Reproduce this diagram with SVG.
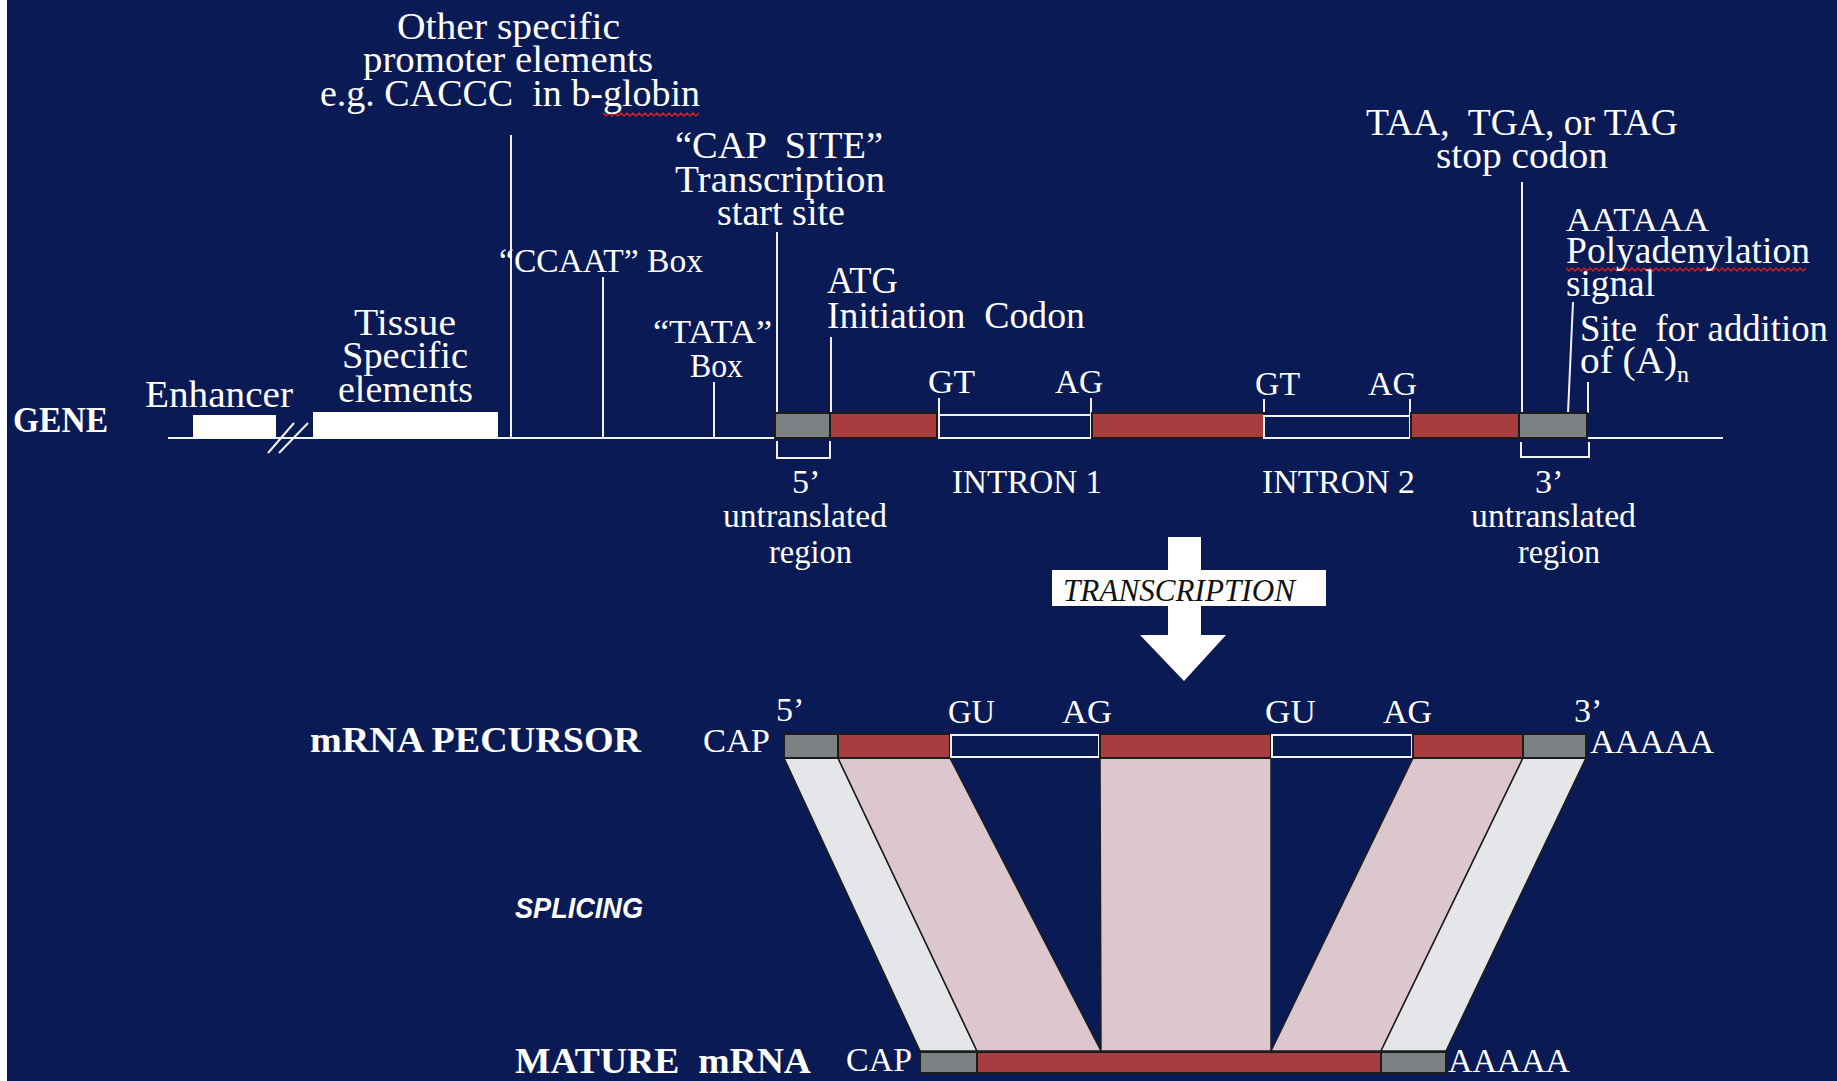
<svg xmlns="http://www.w3.org/2000/svg" width="1837" height="1081" viewBox="0 0 1837 1081">
<style>
.t{font-family:"Liberation Serif","Times New Roman",serif;fill:#fff;font-size:37px;white-space:pre}
.s{font-size:34px}
.b{font-weight:bold;font-size:36px}
.ln{stroke:#f2f2f2;stroke-width:2;fill:none}
.bar{stroke:#1c1c1c;stroke-width:2}
.red{fill:#a83d3f}
.gray{fill:#7c8184}
.pink{fill:#dbc7cd;stroke:#1c1c1c;stroke-width:1.5}
.light{fill:#e5e6e9;stroke:#1c1c1c;stroke-width:1.5}
.intr{fill:#0a1a55;stroke:#f2f2f2;stroke-width:2}
.sq{stroke:#d42020;stroke-width:1.5;fill:none}
</style>
<rect x="0" y="0" width="1837" height="1081" fill="#0a1a55"/>
<rect x="0" y="0" width="7" height="1081" fill="#ffffff"/>

<g id="connectors">
  <line class="ln" x1="168" y1="438" x2="776" y2="438"/>
  <line class="ln" x1="1587" y1="438" x2="1723" y2="438"/>
  <line class="ln" x1="268" y1="453" x2="294" y2="423"/>
  <line class="ln" x1="279" y1="453" x2="308" y2="423"/>
  <line class="ln" x1="511" y1="135" x2="511" y2="437"/>
  <line class="ln" x1="603" y1="277" x2="603" y2="437"/>
  <line class="ln" x1="714" y1="382" x2="714" y2="437"/>
  <line class="ln" x1="777" y1="232" x2="777" y2="413"/>
  <line class="ln" x1="831" y1="337" x2="831" y2="413"/>
  <line class="ln" x1="939" y1="398" x2="939" y2="415"/>
  <line class="ln" x1="1091" y1="398" x2="1091" y2="415"/>
  <line class="ln" x1="1264" y1="399" x2="1264" y2="416"/>
  <line class="ln" x1="1410" y1="399" x2="1410" y2="416"/>
  <line class="ln" x1="1522" y1="182" x2="1522" y2="413"/>
  <line class="ln" x1="1573" y1="302" x2="1568" y2="413"/>
  <line class="ln" x1="1588" y1="382" x2="1588" y2="413"/>
  <path class="ln" d="M777,441 V458 H830 V441"/>
  <path class="ln" d="M1521,442 V457 H1589 V442"/>
  <path class="sq" d="M603,113 l3,3 l3,-3 l3,3 l3,-3 l3,3 l3,-3 l3,3 l3,-3 l3,3 l3,-3 l3,3 l3,-3 l3,3 l3,-3 l3,3 l3,-3 l3,3 l3,-3 l3,3 l3,-3 l3,3 l3,-3 l3,3 l3,-3 l3,3 l3,-3 l3,3 l3,-3 l3,3 l3,-3 l3,3 l3,-3"/>
  <path class="sq" d="M1566,268 l3,3 l3,-3 l3,3 l3,-3 l3,3 l3,-3 l3,3 l3,-3 l3,3 l3,-3 l3,3 l3,-3 l3,3 l3,-3 l3,3 l3,-3 l3,3 l3,-3 l3,3 l3,-3 l3,3 l3,-3 l3,3 l3,-3 l3,3 l3,-3 l3,3 l3,-3 l3,3 l3,-3 l3,3 l3,-3 l3,3 l3,-3 l3,3 l3,-3 l3,3 l3,-3 l3,3 l3,-3 l3,3 l3,-3 l3,3 l3,-3 l3,3 l3,-3 l3,3 l3,-3 l3,3 l3,-3 l3,3 l3,-3 l3,3 l3,-3 l3,3 l3,-3 l3,3 l3,-3 l3,3 l3,-3 l3,3 l3,-3 l3,3 l3,-3 l3,3 l3,-3 l3,3 l3,-3 l3,3 l3,-3 l3,3 l3,-3 l3,3 l3,-3 l3,3 l3,-3 l3,3 l3,-3 l3,3 l3,-3"/>
</g>

<g id="labels-top">
  <text class="t" x="397" y="39" textLength="223" lengthAdjust="spacingAndGlyphs">Other specific</text>
  <text class="t" x="363" y="72" textLength="290" lengthAdjust="spacingAndGlyphs">promoter elements</text>
  <text class="t" x="320" y="106" textLength="380" lengthAdjust="spacingAndGlyphs">e.g. CACCC  in b-globin</text>
  <text class="t" x="675" y="158" textLength="208" lengthAdjust="spacingAndGlyphs">“CAP  SITE”</text>
  <text class="t" x="675" y="192" textLength="210" lengthAdjust="spacingAndGlyphs">Transcription</text>
  <text class="t" x="717" y="225" textLength="128" lengthAdjust="spacingAndGlyphs">start site</text>
  <text class="t s" x="499" y="272" textLength="204" lengthAdjust="spacingAndGlyphs">“CCAAT” Box</text>
  <text class="t" x="354" y="335" textLength="102" lengthAdjust="spacingAndGlyphs">Tissue</text>
  <text class="t" x="342" y="368" textLength="126" lengthAdjust="spacingAndGlyphs">Specific</text>
  <text class="t" x="338" y="402" textLength="135" lengthAdjust="spacingAndGlyphs">elements</text>
  <text class="t" x="145" y="407" textLength="148" lengthAdjust="spacingAndGlyphs">Enhancer</text>
  <text class="t s" x="653" y="343" textLength="119" lengthAdjust="spacingAndGlyphs">“TATA”</text>
  <text class="t s" x="690" y="377" textLength="53" lengthAdjust="spacingAndGlyphs">Box</text>
  <text class="t" x="827" y="293" textLength="71" lengthAdjust="spacingAndGlyphs">ATG</text>
  <text class="t" x="827" y="328" textLength="258" lengthAdjust="spacingAndGlyphs">Initiation  Codon</text>
  <text class="t s" x="928" y="393" textLength="47" lengthAdjust="spacingAndGlyphs">GT</text>
  <text class="t s" x="1055" y="393" textLength="48" lengthAdjust="spacingAndGlyphs">AG</text>
  <text class="t s" x="1255" y="395" textLength="45" lengthAdjust="spacingAndGlyphs">GT</text>
  <text class="t s" x="1368" y="395" textLength="49" lengthAdjust="spacingAndGlyphs">AG</text>
  <text class="t" x="1366" y="135" textLength="312" lengthAdjust="spacingAndGlyphs">TAA,  TGA, or TAG</text>
  <text class="t" x="1436" y="168" textLength="172" lengthAdjust="spacingAndGlyphs">stop codon</text>
  <text class="t s" x="1566" y="231" textLength="143" lengthAdjust="spacingAndGlyphs">AATAAA</text>
  <text class="t" x="1566" y="263" textLength="244" lengthAdjust="spacingAndGlyphs">Polyadenylation</text>
  <text class="t" x="1566" y="296" textLength="89" lengthAdjust="spacingAndGlyphs">signal</text>
  <text class="t" x="1580" y="341" textLength="248" lengthAdjust="spacingAndGlyphs">Site  for addition</text>
  <text class="t" x="1580" y="373" textLength="97" lengthAdjust="spacingAndGlyphs">of (A)</text>
  <text class="t" x="1677" y="382" style="font-size:24px">n</text>
  <text class="t s" x="792" y="493">5’</text>
  <text class="t s" x="952" y="493" textLength="150" lengthAdjust="spacingAndGlyphs">INTRON 1</text>
  <text class="t s" x="1262" y="493" textLength="153" lengthAdjust="spacingAndGlyphs">INTRON 2</text>
  <text class="t s" x="1535" y="493">3’</text>
  <text class="t s" x="723" y="527" textLength="164" lengthAdjust="spacingAndGlyphs">untranslated</text>
  <text class="t s" x="1471" y="527" textLength="165" lengthAdjust="spacingAndGlyphs">untranslated</text>
  <text class="t s" x="769" y="563" textLength="83" lengthAdjust="spacingAndGlyphs">region</text>
  <text class="t s" x="1518" y="563" textLength="82" lengthAdjust="spacingAndGlyphs">region</text>
  <text class="t b" x="13" y="432" textLength="95" lengthAdjust="spacingAndGlyphs">GENE</text>
</g>

<g id="enhancer"><rect x="193" y="415" width="83" height="23" fill="#fff"/></g>
<g id="tissue-elements"><rect x="313" y="412" width="185" height="26" fill="#fff"/></g>

<g id="gene">
  <rect class="bar gray" x="775" y="413" width="55" height="25"/>
  <rect class="bar red" x="830" y="413" width="107" height="25"/>
  <rect class="intr" x="939" y="415" width="152" height="23"/>
  <rect class="bar red" x="1092" y="413" width="172" height="25"/>
  <rect class="intr" x="1264" y="416" width="146" height="22"/>
  <rect class="bar red" x="1411" y="413" width="108" height="25"/>
  <rect class="bar gray" x="1519" y="413" width="68" height="25"/>
</g>

<g id="transcription-arrow">
  <polygon points="1168,537 1201,537 1201,635 1226,635 1184,681 1140,635 1168,635" fill="#fff"/>
  <rect x="1052" y="570" width="274" height="36" fill="#fff"/>
  <text x="1063" y="601" textLength="232" lengthAdjust="spacingAndGlyphs" style="font-family:'Liberation Serif','Times New Roman',serif;font-style:italic;font-size:32px;fill:#111">TRANSCRIPTION</text>
</g>

<g id="splicing">
  <polygon class="light" points="784,758 838,758 977,1051 920,1051"/>
  <polygon class="pink" points="838,758 950,758 1101,1051 977,1051"/>
  <polygon class="pink" points="1100,758 1271,758 1271,1051 1101,1051"/>
  <polygon class="pink" points="1413,758 1523,758 1381,1051 1271,1051"/>
  <polygon class="light" points="1523,758 1586,758 1446,1051 1381,1051"/>
  <text x="515" y="918" textLength="128" lengthAdjust="spacingAndGlyphs" style="font-family:'Liberation Sans',Arial,sans-serif;font-weight:bold;font-style:italic;font-size:30px;fill:#fff">SPLICING</text>
</g>

<g id="mrna-precursor">
  <rect class="bar gray" x="784" y="734" width="54" height="24"/>
  <rect class="bar red" x="838" y="734" width="112" height="24"/>
  <rect class="intr" x="951" y="735" width="148" height="22"/>
  <rect class="bar red" x="1100" y="734" width="171" height="24"/>
  <rect class="intr" x="1272" y="735" width="140" height="22"/>
  <rect class="bar red" x="1413" y="734" width="110" height="24"/>
  <rect class="bar gray" x="1523" y="734" width="63" height="24"/>
  <text class="t b" x="310" y="752" textLength="331" lengthAdjust="spacingAndGlyphs">mRNA PECURSOR</text>
  <text class="t s" x="703" y="752" textLength="67" lengthAdjust="spacingAndGlyphs">CAP</text>
  <text class="t s" x="776" y="721">5’</text>
  <text class="t s" x="948" y="723" textLength="47" lengthAdjust="spacingAndGlyphs">GU</text>
  <text class="t s" x="1062" y="723" textLength="50" lengthAdjust="spacingAndGlyphs">AG</text>
  <text class="t s" x="1265" y="723" textLength="51" lengthAdjust="spacingAndGlyphs">GU</text>
  <text class="t s" x="1383" y="723" textLength="49" lengthAdjust="spacingAndGlyphs">AG</text>
  <text class="t s" x="1574" y="722">3’</text>
  <text class="t s" x="1590" y="753" textLength="124" lengthAdjust="spacingAndGlyphs">AAAAA</text>
</g>

<g id="mature-mrna">
  <rect class="bar gray" x="920" y="1052" width="57" height="21"/>
  <rect class="bar red" x="977" y="1052" width="404" height="21"/>
  <rect class="bar gray" x="1381" y="1052" width="65" height="21"/>
  <text class="t b" x="515" y="1073" textLength="296" lengthAdjust="spacingAndGlyphs">MATURE  mRNA</text>
  <text class="t s" x="846" y="1071" textLength="66" lengthAdjust="spacingAndGlyphs">CAP</text>
  <text class="t s" x="1448" y="1072" textLength="122" lengthAdjust="spacingAndGlyphs">AAAAA</text>
</g>
</svg>
